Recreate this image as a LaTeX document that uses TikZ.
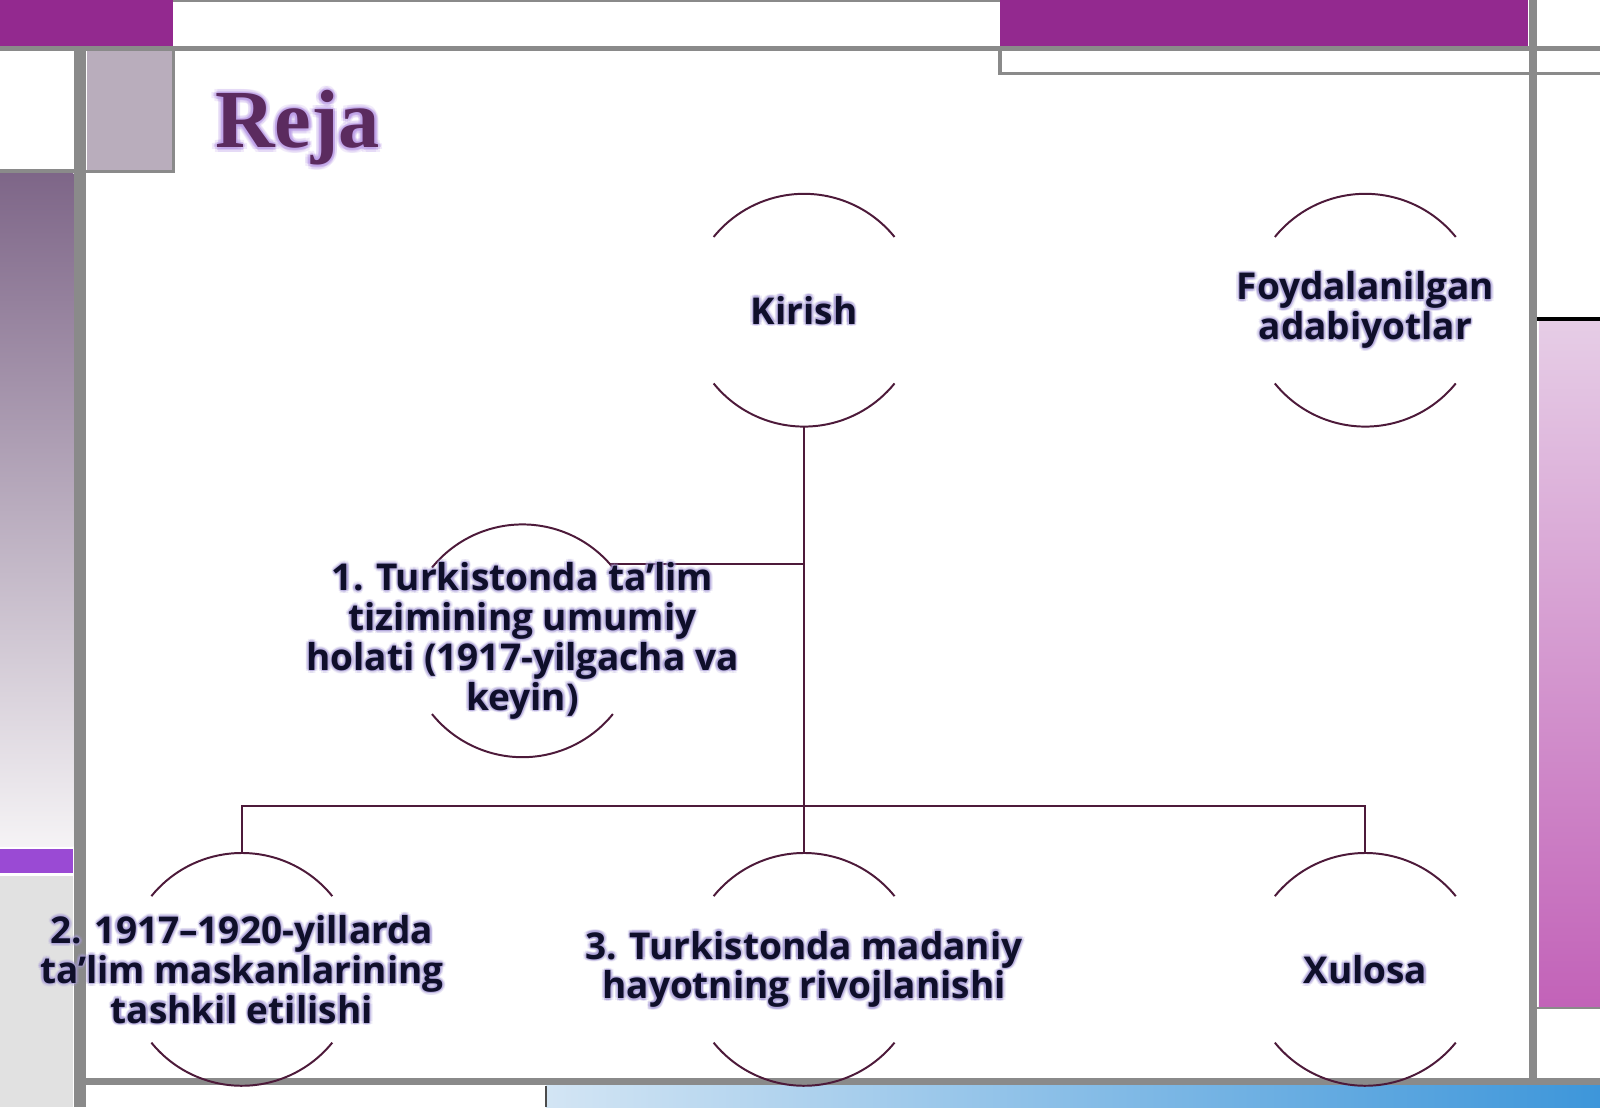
\documentclass[tikz,border=0pt]{standalone}
\usepackage{fontspec}
\setmainfont{Liberation Serif}
\newfontfamily\osans{Open Sans}
\usetikzlibrary{calc}
\definecolor{magbar}{HTML}{93298F}
\definecolor{grayline}{HTML}{8A8A8A}
\definecolor{mauve}{HTML}{B9ADBC}
\definecolor{leftT}{HTML}{7E6688}
\definecolor{leftB}{HTML}{F5F3F5}
\definecolor{violetbar}{HTML}{9A4AD4}
\definecolor{lightgray}{HTML}{E1E1E1}
\definecolor{pinkT}{HTML}{E6CDE6}
\definecolor{pinkB}{HTML}{C262B8}
\definecolor{blueL}{HTML}{D3E5F4}
\definecolor{blueR}{HTML}{3D96DA}
\definecolor{linec}{HTML}{4D1A3A}
\definecolor{txtc}{HTML}{0F0F2A}
\definecolor{glowc}{HTML}{A89CD8}
\definecolor{rejac}{HTML}{5B2B5F}
\definecolor{rejaglow}{HTML}{B99AE6}
\tikzset{
  circ/.style={circle, minimum size=2.28cm, inner sep=0pt, outer sep=0pt},
  arcst/.style={draw=linec, line width=0.55pt},
  conn/.style={draw=linec, line width=0.55pt},
  lbl/.style={font=\osans\bfseries\fontsize{10.3}{11.1}\selectfont, align=center, inner sep=0pt, text=txtc},
  ttl/.style={font=\bfseries\fontsize{23}{26}\selectfont, inner sep=0pt, anchor=base west, text=rejac}
}
\newcommand{\glowlabel}[3]{%
  \foreach \ang in {0,45,...,315}{%
    \node[lbl,text=glowc,text opacity=0.18] (#1h\ang) at ($(#2)+(\ang+22.5:3)$) {#3};
    \node[lbl,text=glowc,text opacity=0.3] (#1g\ang) at ($(#2)+(\ang:1.6)$) {#3};}
  \node[lbl] (#1) at (#2) {#3};}
\newcommand{\halfarcs}[1]{%
  \draw[arcst] (#1.39) arc[start angle=39,end angle=141,radius=1.14cm];
  \draw[arcst] (#1.219) arc[start angle=219,end angle=321,radius=1.14cm];}
\begin{document}
\begin{tikzpicture}[x=0.01cm,y=0.01cm]
\useasboundingbox (0,-1085) rectangle (1568,0);
\fill[white] (0,-1085) rectangle (1568,0);
% top bars
\fill[magbar] (0,0) rectangle (170,-45);
\fill[magbar] (980,0) rectangle (1497,-45);
\draw[grayline, line width=0.4pt] (170,-1) -- (980,-1);
\fill[grayline] (0,-45) rectangle (1568,-50);
\draw[grayline, line width=0.9pt] (980,-50) -- (980,-72) -- (1568,-72);
% right side
\fill[grayline] (1498,0) rectangle (1506,-1058);
\fill[black] (1506,-311) rectangle (1568,-315);
\shade[top color=pinkT, bottom color=pinkB] (1508,-315) rectangle (1568,-988);
\draw[grayline, line width=0.5pt] (1506,-988) -- (1568,-988);
% left side
\fill[grayline] (73,-47) rectangle (84,-1085);
\fill[mauve] (85,-50) rectangle (170,-168);
\draw[grayline, line width=0.9pt] (170,-50) -- (170,-168) -- (84,-168);
\fill[grayline] (0,-166) rectangle (73,-170);
\shade[top color=leftT, bottom color=leftB] (0,-170) rectangle (72,-830);
\fill[violetbar] (0,-832) rectangle (72,-856);
\fill[lightgray] (0,-858) rectangle (72,-1085);
% bottom
\fill[grayline] (84,-1056) rectangle (1568,-1063);
\shade[left color=blueL, right color=blueR] (535,-1064) rectangle (1568,-1085);
\draw[black!70, line width=0.5pt] (535,-1085) -- (535,-1064);
% title
\foreach \ang in {0,45,...,315}{%
  \node[ttl, text=rejaglow, text opacity=0.2] (titleh\ang) at ($(210,-145)+(\ang+22.5:4.5)$) {Reja};
  \node[ttl, text=rejaglow, text opacity=0.35] (titleg\ang) at ($(210,-145)+(\ang:2.5)$) {Reja};}
\node[ttl] (title) at (210,-145) {Reja};
% circles
\node[circ] (kc) at (788,-304) {};
\node[circ] (fc) at (1338,-304) {};
\node[circ] (c1) at (512,-628) {};
\node[circ] (c2) at (237,-950) {};
\node[circ] (c3) at (788,-950) {};
\node[circ] (cx) at (1338,-950) {};
\coordinate (bus) at (788,-790);
% connectors
\draw[conn] (kc.south) -- (c3.north);
\draw[conn] (c2.north) -- (c2.north |- bus) -- (cx.north |- bus) -- (cx.north);
\draw[conn] (c1.41) -- (c1.41 -| kc.south);
% arcs
\halfarcs{kc}
\halfarcs{fc}
\halfarcs{c1}
\halfarcs{c2}
\halfarcs{c3}
\halfarcs{cx}
% labels
\glowlabel{tk}{kc.center}{Kirish}
\glowlabel{tf}{fc.center}{Foydalanilgan\\adabiyotlar}
\glowlabel{t1}{c1.center}{1. Turkistonda ta’lim\\tizimining umumiy\\holati (1917-yilgacha va\\keyin)}
\glowlabel{t2}{c2.center}{2. 1917–1920-yillarda\\ta’lim maskanlarining\\tashkil etilishi}
\glowlabel{t3}{c3.center}{3. Turkistonda madaniy\\hayotning rivojlanishi}
\glowlabel{tx}{cx.center}{Xulosa}
\end{tikzpicture}
\end{document}
